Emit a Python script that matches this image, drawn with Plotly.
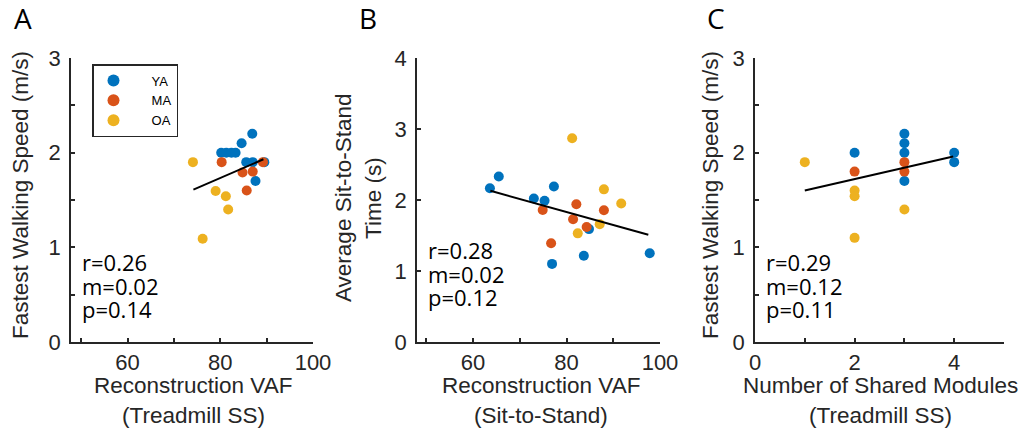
import plotly.graph_objects as go

# ---------------- data ----------------
groups = ["YA", "MA", "OA"]
colors = {"YA": "#0072BD", "MA": "#D95319", "OA": "#EDB120"}

# Panel A: Reconstruction VAF (Treadmill SS) vs Fastest Walking Speed
a_ya_x = [80.2, 81.3, 82.4, 83.3, 84.6, 86.9, 85.6, 87.0, 89.5, 87.6]
a_ya_y = [2.00, 2.00, 2.00, 2.00, 2.10, 2.20, 1.90, 1.90, 1.90, 1.70]
a_ma_x = [80.3, 84.8, 87.0, 89.2, 85.7]
a_ma_y = [1.90, 1.79, 1.80, 1.90, 1.60]
a_oa_x = [74.1, 79.0, 81.2, 81.7, 76.2]
a_oa_y = [1.90, 1.595, 1.54, 1.40, 1.09]
a_fit_x = [74.2, 89.3]
a_fit_y = [1.61, 1.93]

# Panel B: Reconstruction VAF (Sit-to-Stand) vs Average Sit-to-Stand Time
b_ya_x = [63.6, 65.5, 77.3, 73.0, 75.3, 84.8, 83.7, 76.9, 97.8]
b_ya_y = [2.165, 2.33, 2.19, 2.02, 1.99, 1.59, 1.215, 1.10, 1.25]
b_ma_x = [74.9, 82.1, 88.0, 81.4, 84.3, 76.7]
b_ma_y = [1.86, 1.94, 1.855, 1.73, 1.62, 1.39]
b_oa_x = [81.2, 88.0, 91.7, 87.1, 82.4]
b_oa_y = [2.87, 2.15, 1.95, 1.66, 1.53]
b_fit_x = [63.7, 97.5]
b_fit_y = [2.13, 1.51]

# Panel C: Number of Shared Modules vs Fastest Walking Speed
c_ya_x = [2, 3, 3, 3, 3, 4, 4]
c_ya_y = [2.0, 2.2, 2.1, 2.0, 1.7, 2.0, 1.9]
c_ma_x = [2, 3, 3]
c_ma_y = [1.8, 1.9, 1.8]
c_oa_x = [1, 2, 2, 3, 2]
c_oa_y = [1.9, 1.6, 1.54, 1.4, 1.1]
c_fit_x = [1.0, 3.98]
c_fit_y = [1.60, 1.96]

stats_a = ["r=0.26", "m=0.02", "p=0.14"]
stats_b = ["r=0.28", "m=0.02", "p=0.12"]
stats_c = ["r=0.29", "m=0.12", "p=0.11"]

xlabels = [["Reconstruction VAF", "(Treadmill SS)"],
           ["Reconstruction VAF", "(Sit-to-Stand)"],
           ["Number of Shared Modules", "(Treadmill SS)"]]
ylabel_a = "Fastest Walking Speed (m/s)"
ylabel_b = ["Average Sit-to-Stand", "Time (s)"]
ylabel_c = "Fastest Walking Speed (m/s)"

# ---------------- figure ----------------
W, H = 1026, 432
AX = "#262626"
ARIAL = "Liberation Sans"
TICKFONT = dict(family=ARIAL, size=22, color=AX)
TXTFONT = "Open Sans"

fig = go.Figure()

panels = [
    ("x", "y", a_ya_x, a_ya_y, a_ma_x, a_ma_y, a_oa_x, a_oa_y, a_fit_x, a_fit_y),
    ("x2", "y2", b_ya_x, b_ya_y, b_ma_x, b_ma_y, b_oa_x, b_oa_y, b_fit_x, b_fit_y),
    ("x3", "y3", c_ya_x, c_ya_y, c_ma_x, c_ma_y, c_oa_x, c_oa_y, c_fit_x, c_fit_y),
]
for i, (xa, ya, yx, yy, mx, my, ox, oy, fx, fy) in enumerate(panels):
    for g, xs, ys in (("YA", yx, yy), ("MA", mx, my), ("OA", ox, oy)):
        fig.add_trace(go.Scatter(
            x=xs, y=ys, mode="markers", name="\u00a0\u00a0\u00a0\u00a0\u00a0" + g,
            marker=dict(color=colors[g], size=10, line=dict(width=0)),
            xaxis=xa, yaxis=ya, showlegend=(i == 0),
        ))
    fig.add_trace(go.Scatter(
        x=fx, y=fy, mode="lines", line=dict(color="black", width=2),
        xaxis=xa, yaxis=ya, showlegend=False,
    ))

ydom = [(H - 342) / H, (H - 58) / H]
common = dict(showline=True, linecolor=AX, linewidth=1.5, ticks="inside",
              ticklen=4, tickwidth=1.5, tickcolor=AX, tickfont=TICKFONT,
              showgrid=False, zeroline=False, mirror=False, automargin=False)
ycommon = dict(common, ticklabelstandoff=4)

fig.update_layout(
    template="none",
    width=W, height=H, margin=dict(l=0, r=0, t=0, b=0, autoexpand=False),
    plot_bgcolor="white", paper_bgcolor="white",
    xaxis=dict(domain=[71 / W, 313 / W], range=[47.8, 100], tickvals=[50, 60, 70, 80, 90, 100],
               ticktext=["", "60", "", "80", "", "100"], anchor="y", **common),
    yaxis=dict(domain=ydom, range=[0, 3], tickvals=[0, 0.5, 1, 1.5, 2, 2.5, 3],
               ticktext=["0", "", "1", "", "2", "", "3"], anchor="x", **ycommon),
    xaxis2=dict(domain=[417 / W, 660 / W], range=[48, 100], tickvals=[50, 60, 70, 80, 90, 100],
                ticktext=["", "60", "", "80", "", "100"], anchor="y2", **common),
    yaxis2=dict(domain=ydom, range=[0, 4], tickvals=[0, 1, 2, 3, 4],
                ticktext=["0", "1", "2", "3", "4"], anchor="x2", **ycommon),
    xaxis3=dict(domain=[755 / W, 1004 / W], range=[0, 5], tickvals=[0, 1, 2, 3, 4, 5],
                ticktext=["0", "", "2", "", "4", ""], anchor="y3", **common),
    yaxis3=dict(domain=ydom, range=[0, 3], tickvals=[0, 0.5, 1, 1.5, 2, 2.5, 3],
                ticktext=["0", "", "1", "", "2", "", "3"], anchor="x3", **ycommon),
    legend=dict(x=92 / W, y=(H - 64) / H, xanchor="left", yanchor="top",
                bordercolor=AX, borderwidth=1.5, bgcolor="white",
                font=dict(family=ARIAL, size=13, color="black"),
                tracegroupgap=0, itemsizing="constant"),
    showlegend=True,
)

def px(x):
    return x / W

def py(y):
    return (H - y) / H

ann = []
# panel letters
for lab, x in (("A", 23), ("B", 368), ("C", 716)):
    ann.append(dict(text=lab, x=px(x), y=py(18), font=dict(family=TXTFONT, size=28, color="black")))
# stats
for stats, x0, y0 in ((stats_a, 80, 262), (stats_b, 426, 250), (stats_c, 764, 262)):
    for k, s in enumerate(stats):
        ann.append(dict(text=s, x=px(x0), y=py(y0 + k * 23.5), xanchor="left",
                        font=dict(family=TXTFONT, size=22, color="black")))
# axis titles
TF = dict(family=ARIAL, size=22.5, color=AX)
for (l1, l2), cx in zip(xlabels, (193, 541, 880)):
    ann.append(dict(text=l1, x=px(cx), y=py(385), font=TF))
    ann.append(dict(text=l2, x=px(cx), y=py(415), font=TF))
ann.append(dict(text=ylabel_a, x=px(21), y=py(195), textangle=-90, font=TF))
ann.append(dict(text=ylabel_b[0], x=px(343), y=py(198), textangle=-90, font=TF))
ann.append(dict(text=ylabel_b[1], x=px(373), y=py(198), textangle=-90, font=TF))
ann.append(dict(text=ylabel_c, x=px(711), y=py(195), textangle=-90, font=TF))
for a in ann:
    a.setdefault("xanchor", "center")
    a.update(xref="paper", yref="paper", showarrow=False, yanchor="middle")
fig.update_layout(annotations=ann)

fig.write_html("out.html")
